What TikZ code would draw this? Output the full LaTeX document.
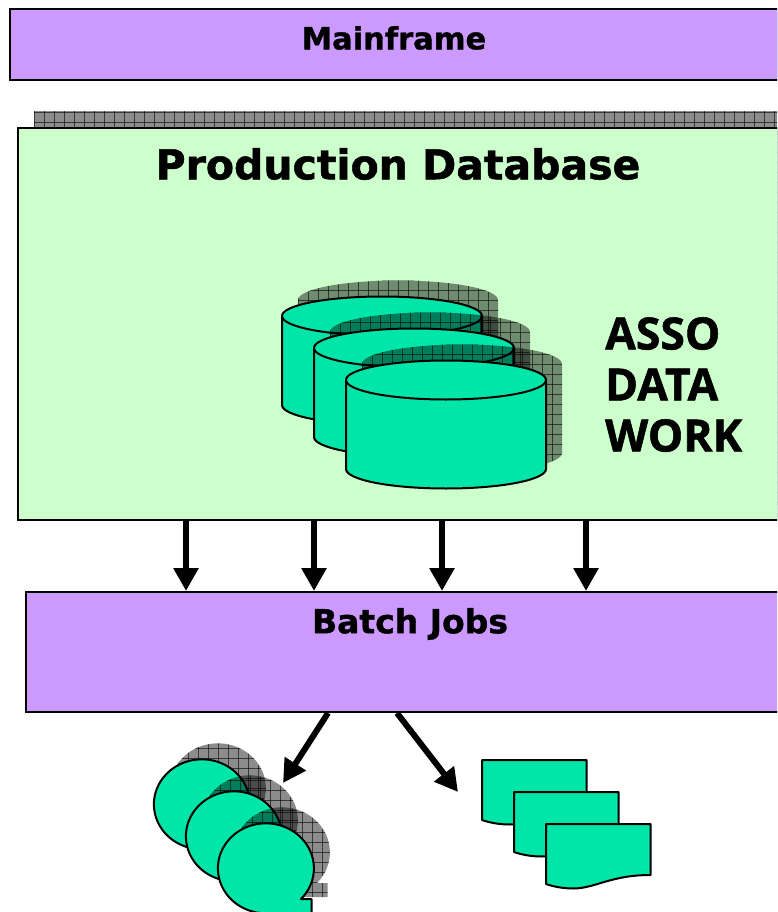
\documentclass[tikz,border=0pt]{standalone}
\usepackage{fontspec}
\setmainfont{DejaVu Sans}[BoldFeatures={FakeBold=1.2}]
\newfontfamily\labelfont{Open Sans}[BoldFeatures={FakeBold=1.2}]
\usetikzlibrary{arrows.meta}
\definecolor{boxpurple}{HTML}{CC99FF}
\definecolor{dbgreen}{HTML}{CCFFCC}
\definecolor{diskteal}{HTML}{00E6A8}
\tikzset{
	boxnode/.style={draw=black,line width=2pt,inner sep=0pt},
	outline/.style={draw=black,line width=2pt,fill=diskteal,line join=round},
	bigarrow/.style={line width=6pt,-{Triangle[length=23pt,width=24pt]}}
}
% shadow: grey tone with a thin grid, clipped to the given path
\newcommand{\shadowfill}[1]{
	\begin{scope}
		\clip #1;
		\fill[black,opacity=0.45] (-60,-60) rectangle (800,800);
		\foreach \g in {-60,-50,...,790} {
			\draw[black,opacity=0.6,line width=0.8pt] (\g,-60) -- (\g,800);
			\draw[black,opacity=0.6,line width=0.8pt] (-60,\g) -- (800,\g);
		}
	\end{scope}
}
\newcommand{\diskpath}{(0,0) arc (180:360:100 and 19.5) -- (200,89) arc (0:180:100 and 19.5) -- cycle}
\newcommand{\bubblepath}{(35,31) arc (43:-270:48 and 45) -- (45.5,45) -- (45.5,31) -- cycle}
\newcommand{\docpath}{(0,0) -- (104.5,0) -- (104.5,51) .. controls (65,51) and (50,64) .. (28,64.5) .. controls (20,64.5) and (10,63.5) .. (0,60) -- cycle}

\begin{document}
\begin{tikzpicture}[x=1pt,y=-1pt]
	\useasboundingbox (0,0) rectangle (777,912);
	\clip (0,0) rectangle (777,912);

	% boxes
	\node[boxnode,fill=boxpurple,minimum width=768pt,minimum height=71pt] (mainframe) at (394,44.5) {};
	\node[font=\fontsize{30.5}{36}\selectfont\bfseries] (mainframetext) at (394,38) {Mainframe};

	\begin{scope}[shift={(34,112)}]
		\shadowfill{(0,0) rectangle (760,392)}
	\end{scope}
	\node[boxnode,fill=dbgreen,minimum width=760pt,minimum height=392pt] (proddb) at (398,324) {};
	\node[font=\fontsize{41}{48}\selectfont\bfseries] (proddbtext) at (398,164) {Production Database};

	\node[boxnode,fill=boxpurple,minimum width=768pt,minimum height=120pt] (batch) at (410,652) {};
	\node[font=\fontsize{33}{38}\selectfont\bfseries] (batchtext) at (410,624) {Batch Jobs};

	% disks
	\foreach \d in {0,1,2} {
		\begin{scope}[shift={(282+32*\d,316+32*\d)}]
			\begin{scope}[shift={(16,-16)}]
				\shadowfill{\diskpath}
			\end{scope}
			\draw[outline] \diskpath;
			\draw[outline,fill=none] (0,0) arc (180:0:100 and 19.5);
		\end{scope}
	}
	\node[font=\fontsize{44.5}{51}\selectfont\labelfont\bfseries,align=left,anchor=north west,inner sep=0pt] (disklabel) at (605,317) {ASSO\\DATA\\WORK};

	% bubbles
	\foreach \d in {0,1,2} {
		\begin{scope}[shift={(202+32*\d,804+32*\d)}]
			\begin{scope}[shift={(16,-16)}]
				\shadowfill{\bubblepath}
			\end{scope}
			\draw[outline] \bubblepath;
		\end{scope}
	}

	% documents
	\foreach \d in {0,1,2} {
		\begin{scope}[shift={(482+32*\d,760+32*\d)}]
			\draw[outline] \docpath;
		\end{scope}
	}

	% arrows
	\coordinate (bubbletip) at (283,783);
	\coordinate (doctip) at (458,792);
	\foreach \x in {186,314,442,586} {
		\draw[bigarrow] (proddb.south -| \x,0) -- (batch.north -| \x,0);
	}
	\draw[bigarrow] (batch.south -| 328,0) -- (bubbletip);
	\draw[bigarrow] (batch.south -| 397,0) -- (doctip);
\end{tikzpicture}
\end{document}
